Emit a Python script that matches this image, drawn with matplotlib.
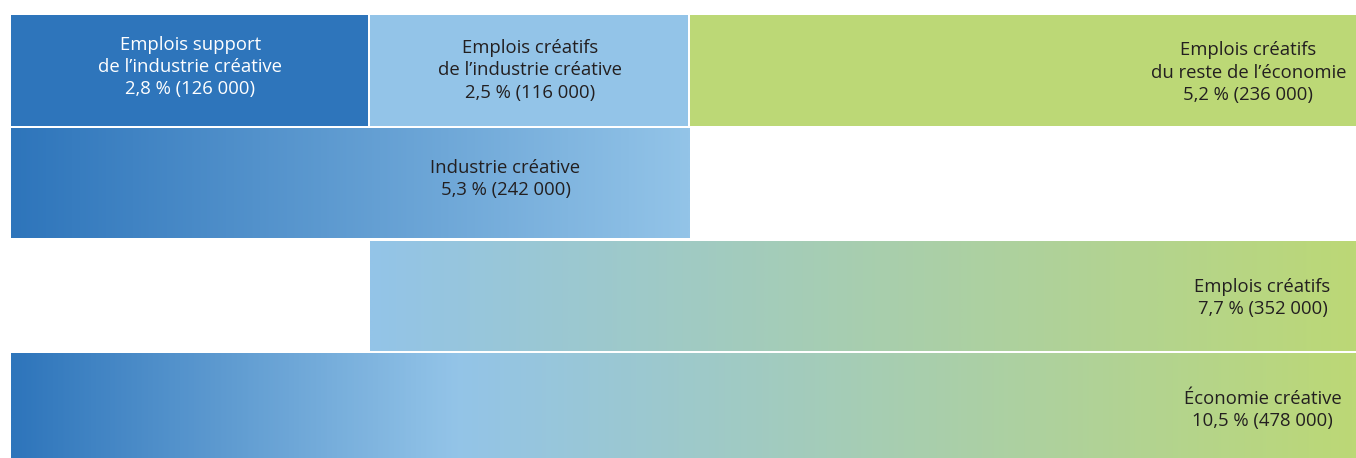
import matplotlib
matplotlib.use("Agg")
import numpy as np
import matplotlib.pyplot as plt
from matplotlib.colors import LinearSegmentedColormap

# data: share of total employment (%) and number of jobs
seg_labels = ["Emplois support\nde l\u2019industrie créative",
              "Emplois créatifs\nde l\u2019industrie créative",
              "Emplois créatifs\ndu reste de l\u2019économie"]
seg_pct = [2.8, 2.5, 5.2]
seg_jobs = [126000, 116000, 236000]

tot_labels = ["Industrie créative", "Emplois créatifs", "Économie créative"]
tot_pct = [5.3, 7.7, 10.5]
tot_jobs = [242000, 352000, 478000]

DARK = "#2e75bb"
LIGHT = "#93c4e8"
GREEN = "#bcd876"
TXT = "#231f20"

plt.rcParams['font.family'] = ['Open Sans', 'DejaVu Sans']


def fmt(p, n):
    s = f"{p:.1f}".replace(".", ",")
    j = f"{n:,}".replace(",", "\u00a0")
    return f"{s} % ({j})"


W, H = 1356, 458
fig = plt.figure(figsize=(W / 100, H / 100), dpi=100)
top = 14
bottom = 465
ax = fig.add_axes([11 / W, 1 - bottom / H, 1 - 11 / W, (bottom - top) / H])
ax.set_xlim(0, tot_pct[2])
ax.set_ylim(-0.5, 3.5)
ax.axis("off")

h = 0.982


def gradient_bar(x0, width, y, stops):
    bar = ax.barh(y, width, left=x0, height=h, color="none", edgecolor="none")[0]
    cmap = LinearSegmentedColormap.from_list("g", stops)
    grad = np.linspace(0, 1, 512).reshape(1, -1)
    im = ax.imshow(grad, cmap=cmap, aspect="auto", interpolation="bilinear",
                   extent=[x0, x0 + width, y - h / 2, y + h / 2])
    im.set_clip_path(bar)


# row 1: the three components
lefts = np.cumsum([0] + seg_pct[:-1])
seg_colors = [DARK, LIGHT, GREEN]
gap = 0.012
for i in range(3):
    w = seg_pct[i] - (gap if i < 2 else 0)
    ax.barh(3, w, left=lefts[i], height=h, color=seg_colors[i], edgecolor="none")

# row 2: creative industry (support + creative jobs in the industry)
gradient_bar(0, tot_pct[0], 2, [DARK, LIGHT])
# row 3: all creative jobs
gradient_bar(seg_pct[0], tot_pct[1], 1, [LIGHT, GREEN])
# row 4: creative economy
gradient_bar(0, tot_pct[2], 0, [(0, DARK), (0.33, LIGHT), (1, GREEN)])

fs = 13.3
ls = 1.3
ax.text(lefts[0] + seg_pct[0] / 2, 3.03, seg_labels[0] + "\n" + fmt(seg_pct[0], seg_jobs[0]),
        ha="center", va="center", color="white", fontsize=fs, linespacing=ls)
ax.text(lefts[1] + seg_pct[1] / 2, 3.0, seg_labels[1] + "\n" + fmt(seg_pct[1], seg_jobs[1]),
        ha="center", va="center", color=TXT, fontsize=fs, linespacing=ls)
ax.text(9.66, 2.98, seg_labels[2] + "\n" + fmt(seg_pct[2], seg_jobs[2]),
        ha="center", va="center", color=TXT, fontsize=fs, linespacing=ls)

ax.text(3.86, 2.04, tot_labels[0] + "\n" + fmt(tot_pct[0], tot_jobs[0]),
        ha="center", va="center", color=TXT, fontsize=fs, linespacing=ls)
ax.text(9.77, 0.98, tot_labels[1] + "\n" + fmt(tot_pct[1], tot_jobs[1]),
        ha="center", va="center", color=TXT, fontsize=fs, linespacing=ls)
ax.text(9.77, -0.01, tot_labels[2] + "\n" + fmt(tot_pct[2], tot_jobs[2]),
        ha="center", va="center", color=TXT, fontsize=fs, linespacing=ls)

fig.savefig("out.png", dpi=100)
